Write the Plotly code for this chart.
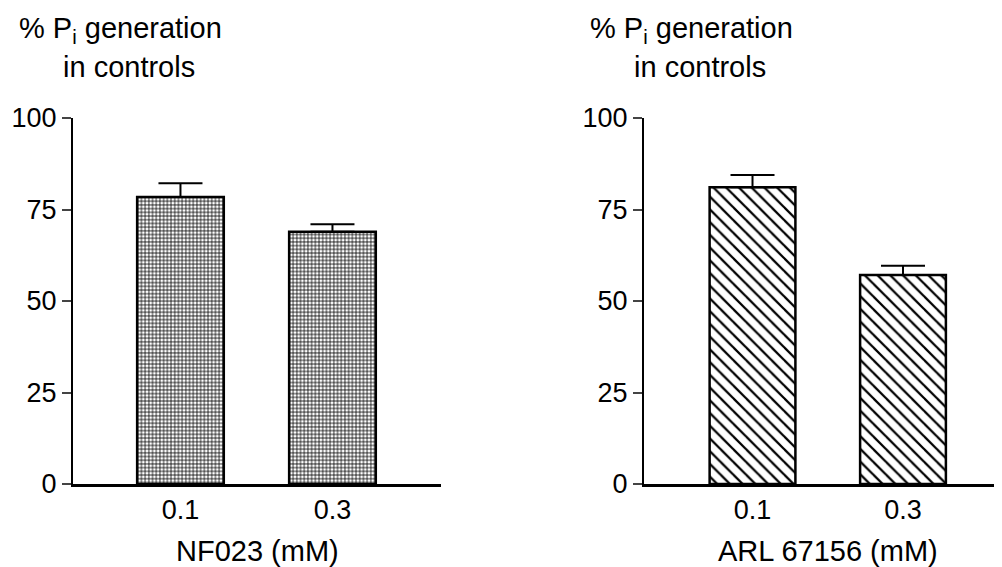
import plotly.graph_objects as go

doses = ["0.1", "0.3"]
nf023_mean = [78.4, 68.9]
nf023_sem = [3.8, 2.1]
arl_mean = [81.1, 57.1]
arl_sem = [3.3, 2.5]
y_ticks = [0, 25, 50, 75, 100]
y_title_lines = ["% P<sub>i</sub> generation", "in controls"]
x_titles = ["NF023 (mM)", "ARL 67156 (mM)"]

FONT = "Arial, Liberation Sans, sans-serif"
FS_TICK = 27
FS_TITLE = 29
W, H = 1002, 567

fig = go.Figure()

def add_bar(xaxis, yaxis, y, err, shape, size, solidity):
    fig.add_trace(go.Bar(
        x=doses, y=y, xaxis=xaxis, yaxis=yaxis, width=0.57,
        marker=dict(color="white", line=dict(color="black", width=2.5),
                    pattern=dict(shape=shape, size=size, solidity=solidity,
                                 fgcolor="black", bgcolor="white", fillmode="replace")),
        error_y=dict(type="data", symmetric=False, array=err,
                     arrayminus=[0] * len(err), color="black", thickness=2, width=22),
        showlegend=False,
    ))

add_bar("x", "y", nf023_mean, nf023_sem, "+", 3.7, 0.38)
add_bar("x2", "y2", arl_mean, arl_sem, "\\", 9, 0.25)

ydom = [(H - 476) / H, (H - 110) / H]
yax = dict(range=[0, 100], tickvals=y_ticks, ticks="outside", ticklen=9, tickwidth=2,
           showline=True, linewidth=2, linecolor="black", showgrid=False, zeroline=False,
           automargin=False,
           tickfont=dict(family=FONT, size=FS_TICK, color="black"), domain=ydom)
xax = dict(type="category", ticks="", showline=True, linewidth=2.5, linecolor="black",
           showgrid=False, zeroline=False, automargin=False,
           tickfont=dict(family=FONT, size=FS_TICK, color="black"))

fig.update_layout(
    width=W, height=H, margin=dict(l=0, r=0, t=0, b=0, autoexpand=False),
    paper_bgcolor="white", plot_bgcolor="white",
    xaxis=dict(xax, domain=[65 / W, 433 / W], range=[-0.707, 1.714], anchor="y"),
    xaxis2=dict(xax, domain=[636 / W, 1.0], range=[-0.721, 1.711], anchor="y2"),
    yaxis=dict(yax, anchor="x"),
    yaxis2=dict(yax, anchor="x2"),
)

for off in [0, 571]:
    for (xc, yc), line in zip([(112, 22), (121, 59)], y_title_lines):
        fig.add_annotation(x=(xc + off) / W, y=1 - yc / H, xref="paper", yref="paper",
                           text=line, showarrow=False,
                           xanchor="center", yanchor="middle",
                           font=dict(family=FONT, size=FS_TITLE, color="black"))

for xpos, t in zip([249, 819.5], x_titles):
    fig.add_annotation(x=xpos / W, y=1 - 543 / H, xref="paper", yref="paper",
                       text=t, showarrow=False, xanchor="center", yanchor="middle",
                       font=dict(family=FONT, size=FS_TITLE, color="black"))

fig.write_html("out.html")
